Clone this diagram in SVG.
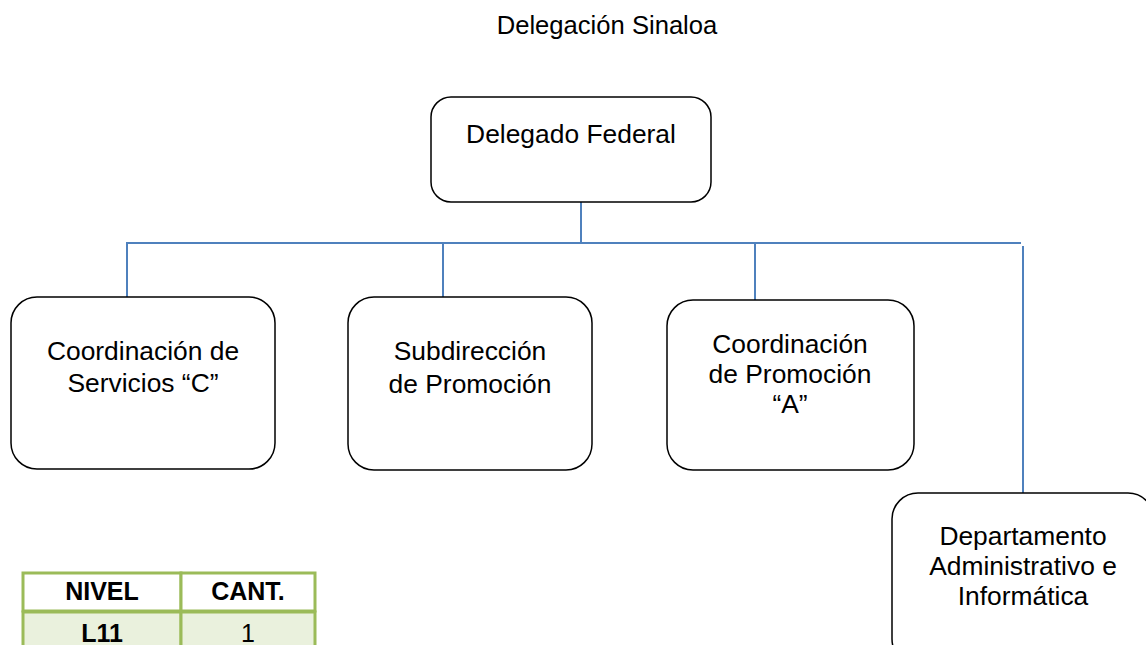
<svg xmlns="http://www.w3.org/2000/svg" width="1146" height="645" viewBox="0 0 1146 645">
<style>
.box{fill:#fff;stroke:#000;stroke-width:1.5}
.t{font-family:"Liberation Sans",Arial,sans-serif;font-size:26.4px;fill:#000;text-anchor:middle}
.c{stroke:#4F81BD;stroke-width:2;fill:none}
.tb{font-family:"Liberation Sans",Arial,sans-serif;font-size:25px;fill:#000;text-anchor:middle}
.cell{stroke:#9BBB59;stroke-width:3}
</style>
<rect width="1146" height="645" fill="#fff"/>
<text class="t" x="607" y="34" style="font-size:25.6px">Delegación Sinaloa</text>
<g id="connectors">
<line class="c" x1="581" y1="202" x2="581" y2="243"/>
<line class="c" x1="126" y1="243" x2="1021" y2="243"/>
<line class="c" x1="127" y1="243" x2="127" y2="297"/>
<line class="c" x1="443" y1="243" x2="443" y2="297"/>
<line class="c" x1="755" y1="243" x2="755" y2="300"/>
<line class="c" x1="1023" y1="246" x2="1023" y2="493"/>
</g>
<g id="delegado">
<rect class="box" x="431" y="97" width="280" height="105" rx="20"/>
<text class="t" x="571" y="143">Delegado Federal</text>
</g>
<g id="coord-servicios">
<rect class="box" x="11" y="297" width="264" height="172" rx="26"/>
<text class="t" x="143" y="360">Coordinación de</text>
<text class="t" x="143" y="392">Servicios “C”</text>
</g>
<g id="subdireccion">
<rect class="box" x="348" y="297" width="244" height="173" rx="26"/>
<text class="t" x="470" y="360">Subdirección</text>
<text class="t" x="470" y="393">de Promoción</text>
</g>
<g id="coord-promocion">
<rect class="box" x="667" y="300" width="247" height="170" rx="26"/>
<text class="t" x="790" y="353">Coordinación</text>
<text class="t" x="790" y="383">de Promoción</text>
<text class="t" x="790" y="413">“A”</text>
</g>
<g id="departamento">
<rect class="box" x="892" y="493" width="262" height="172" rx="26"/>
<text class="t" x="1023" y="545">Departamento</text>
<text class="t" x="1023" y="575">Administrativo e</text>
<text class="t" x="1023" y="605">Informática</text>
</g>
<g id="tabla">
<rect class="cell" x="23" y="573" width="158" height="38" fill="#fff"/>
<rect class="cell" x="181" y="573" width="134" height="38" fill="#fff"/>
<rect class="cell" x="23" y="612" width="158" height="45" fill="#EAF1DD"/>
<rect class="cell" x="181" y="612" width="134" height="45" fill="#EAF1DD"/>
<text class="tb" x="102" y="600" font-weight="bold">NIVEL</text>
<text class="tb" x="248" y="600" font-weight="bold">CANT.</text>
<text class="tb" x="102" y="642" font-weight="bold">L11</text>
<text class="tb" x="248" y="642">1</text>
</g>
</svg>
